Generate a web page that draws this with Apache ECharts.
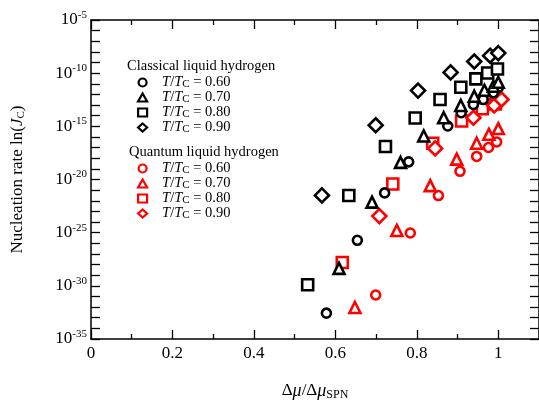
<!DOCTYPE html>
<html><head><meta charset="utf-8">
<script src="https://cdn.jsdelivr.net/npm/echarts@6/dist/echarts.min.js"></script>
<style>html,body{margin:0;padding:0;background:#fff}#c{width:539px;height:406px}</style>
</head><body><div id="c"></div>
<script>
// x = Δμ/Δμ_SPN, y = log10(J_C)
const classical060 = [[0.578,-32.57],[0.654,-25.72],[0.721,-21.26],[0.780,-18.34],[0.876,-14.97],[0.909,-13.72],[0.939,-12.94],[0.963,-12.48],[0.988,-11.85],[1.0,-11.36]];
const classical070 = [[0.609,-28.36],[0.690,-22.13],[0.760,-18.39],[0.817,-15.91],[0.866,-14.19],[0.908,-13.04],[0.941,-12.17],[0.966,-11.61],[0.988,-11.23],[1.0,-10.86]];
const classical080 = [[0.532,-29.9],[0.633,-21.5],[0.723,-16.9],[0.796,-14.22],[0.857,-12.48],[0.908,-11.33],[0.945,-10.54],[0.974,-9.98],[0.998,-9.61]];
const classical090 = [[0.567,-21.5],[0.699,-14.9],[0.803,-11.64],[0.883,-9.93],[0.941,-8.9],[0.980,-8.36],[1.0,-8.11]];
const quantum060 = [[0.699,-30.86],[0.784,-25.03],[0.853,-21.51],[0.906,-19.23],[0.947,-17.83],[0.976,-16.99],[0.996,-16.47]];
const quantum070 = [[0.648,-32.04],[0.751,-24.79],[0.833,-20.58],[0.898,-18.08],[0.947,-16.59],[0.977,-15.75],[1.0,-15.21]];
const quantum080 = [[0.617,-27.8],[0.741,-20.42],[0.839,-16.59],[0.910,-14.5],[0.961,-13.35],[0.993,-12.9]];
const quantum090 = [[0.708,-23.44],[0.845,-17.08],[0.939,-14.19],[0.990,-13.04],[1.008,-12.48]];
const ratios = ['0.60','0.70','0.80','0.90'];
const xTickLabels = {0:'0',0.2:'0.2',0.4:'0.4',0.6:'0.6',0.8:'0.8',1:'1'};

const FONT = 'Liberation Serif';
const symbols = ['circle','triangle','rect','diamond'];
const sizes = [9,11,11,14];
function mk(name, data, k, color){
  return {type:'scatter', name:name, data:data, symbol:symbols[k], symbolSize:sizes[k],
    itemStyle:{color:'#fff', borderColor:color, borderWidth:2.6, opacity:1}, z: 2};
}
const series = [
  mk('Quantum 0.60', quantum060, 0, '#ff0000'),
  mk('Quantum 0.70', quantum070, 1, '#ff0000'),
  mk('Quantum 0.80', quantum080, 2, '#ff0000'),
  mk('Quantum 0.90', quantum090, 3, '#ff0000'),
  mk('Classical 0.60', classical060, 0, '#000'),
  mk('Classical 0.70', classical070, 1, '#000'),
  mk('Classical 0.80', classical080, 2, '#000'),
  mk('Classical 0.90', classical090, 3, '#000')
];
series.slice(4).forEach(s=>s.z=3);

const legRich = {
  i:{fontStyle:'italic',fontSize:14.5,fontFamily:FONT,color:'#000',lineHeight:14},
  s:{fontSize:11,fontFamily:FONT,color:'#000',lineHeight:14,verticalAlign:'bottom'},
  n:{fontSize:14.5,fontFamily:FONT,color:'#000',lineHeight:14}
};
function legend(prefix, color, top){
  return {orient:'vertical', left:132, top:top, itemWidth:9, itemHeight:8, itemGap:0,
    selectedMode:false,
    data: ratios.map((r,k)=>({name:prefix+' '+r, icon:symbols[k],
      itemStyle:{color:'#fff', borderColor:color, borderWidth:2.2}})),
    formatter: n => '{i|T}{n|/}{i|T}{s|C}{n| = '+n.split(' ')[1]+'}',
    textStyle:{rich:legRich, color:'#000', padding:[0,0,0,10], lineHeight:14}
  };
}

const axisLine = {show:true, onZero:false, lineStyle:{color:'#000', width:1.5}};
const tick = {show:true, inside:true, length:9, lineStyle:{color:'#000', width:1.3}};

const option = {
  animation:false,
  backgroundColor:'#fff',
  grid:{left:91, top:20, right:-2, bottom:65, show:false},
  graphic:[
    {type:'text', left:127, top:59, style:{text:'Classical liquid hydrogen', font:'14.5px "Liberation Serif"', fill:'#000'}},
    {type:'text', left:129, top:145, style:{text:'Quantum liquid hydrogen', font:'14.5px "Liberation Serif"', fill:'#000'}}
  ],
  legend:[legend('Classical','#000',70), legend('Quantum','#ff0000',156)],
  xAxis:[
    {type:'value', min:0, max:1.1, interval:0.2, position:'bottom',
      axisLine:axisLine, axisTick:tick, minorTick:{show:true, splitNumber:2, length:5, lineStyle:{color:'#000',width:1.3}},
      splitLine:{show:false},
      axisLabel:{show:true, color:'#000', fontFamily:FONT, fontSize:17, margin:6, showMaxLabel:false,
        formatter: v => xTickLabels[Math.round(v*10)/10] !== undefined ? xTickLabels[Math.round(v*10)/10] : ''},
      name:'Δ{i|μ}/Δ{i|μ}{s|SPN}', nameLocation:'middle', nameGap:42,
      nameTextStyle:{color:'#000', fontFamily:FONT, fontSize:17,
        rich:{i:{fontStyle:'italic',fontSize:18,fontFamily:FONT,color:'#000'}, s:{fontSize:12,fontFamily:FONT,color:'#000',padding:[8,0,0,0]}}}
    },
    {type:'value', min:0, max:1.1, interval:0.2, position:'top',
      axisLine:axisLine, axisTick:tick, minorTick:{show:true, splitNumber:2, length:5, lineStyle:{color:'#000',width:1.3}},
      splitLine:{show:false}, axisLabel:{show:false}}
  ],
  yAxis:[
    {type:'value', min:-35, max:-5, interval:5, position:'left',
      axisLine:axisLine, axisTick:tick, minorTick:{show:true, splitNumber:5, length:9, lineStyle:{color:'#000',width:1.3}},
      splitLine:{show:false},
      axisLabel:{show:true, color:'#000', margin:4, formatter: v => '{b|10}{e|'+v+'}',
        rich:{b:{fontSize:17,fontFamily:FONT,color:'#000'}, e:{fontSize:11,fontFamily:FONT,color:'#000',padding:[0,0,10,0]}}},
      name:'Nucleation rate ln({i|J}{s|C})', nameLocation:'middle', nameGap:64, nameRotate:90,
      nameTextStyle:{color:'#000', fontFamily:FONT, fontSize:17,
        rich:{i:{fontStyle:'italic',fontSize:17,fontFamily:FONT,color:'#000'}, s:{fontSize:11,fontFamily:FONT,color:'#000',padding:[7,0,0,0]}}}
    },
    {type:'value', min:-35, max:-5, interval:5, position:'right',
      axisLine:axisLine, axisTick:tick, minorTick:{show:true, splitNumber:5, length:9, lineStyle:{color:'#000',width:1.3}},
      splitLine:{show:false}, axisLabel:{show:false}}
  ],
  series: series
};
const chart = echarts.init(document.getElementById('c'), null, {renderer:'canvas'});
chart.setOption(option);
</script></body></html>
